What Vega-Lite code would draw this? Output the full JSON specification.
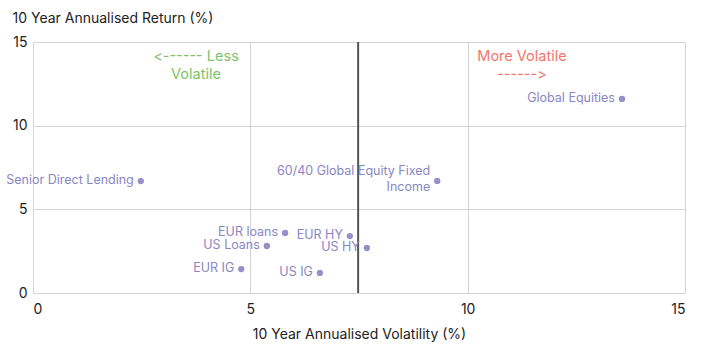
{
  "$schema": "https://vega.github.io/schema/vega-lite/v6.json",
  "autosize": "none",
  "width": 652,
  "height": 251,
  "padding": {"left": 33, "top": 42, "right": 33, "bottom": 59},
  "config": {
    "font": "Inter",
    "view": {"stroke": null},
    "axis": {
      "labelFont": "Inter",
      "titleFont": "Inter",
      "labelFontSize": 14,
      "titleFontSize": 14,
      "titleFontWeight": "normal",
      "labelColor": "#222",
      "titleColor": "#222",
      "gridColor": "#d3d3d3",
      "domain": false,
      "ticks": false
    }
  },
  "datasets": {
    "points": [
      {"name": "Senior Direct Lending", "vol": 2.48, "ret": 6.69},
      {"name": "Global Equities", "vol": 13.55, "ret": 11.6},
      {"name": "60/40 Global Equity Fixed Income", "vol": 9.3, "ret": 6.7},
      {"name": "EUR loans", "vol": 5.8, "ret": 3.59},
      {"name": "US Loans", "vol": 5.38, "ret": 2.81},
      {"name": "EUR IG", "vol": 4.79, "ret": 1.43},
      {"name": "US IG", "vol": 6.6, "ret": 1.2},
      {"name": "EUR HY", "vol": 7.29, "ret": 3.4},
      {"name": "US HY", "vol": 7.68, "ret": 2.69}
    ],
    "notes": [
      {"vol": 3.75, "ret": 14.1, "text": ["<\u200c-\u200c-\u200c-\u200c-\u200c-\u200c- Less", "Volatile"], "side": "less"},
      {"vol": 11.25, "ret": 14.1, "text": ["More Volatile", "-\u200c-\u200c-\u200c-\u200c-\u200c-\u200c>"], "side": "more"}
    ],
    "divider": [{"vol": 7.48}]
  },
  "layer": [
    {
      "data": {"name": "points"},
      "mark": {"type": "circle", "size": 40, "color": "#9590c8", "opacity": 1},
      "encoding": {
        "x": {
          "field": "vol", "type": "quantitative",
          "scale": {"domain": [0, 15], "nice": false},
          "axis": {"values": [0, 5, 10, 15], "title": "10 Year Annualised Volatility (%)", "labelPadding": 9, "titlePadding": 11}
        },
        "y": {
          "field": "ret", "type": "quantitative",
          "scale": {"domain": [0, 15], "nice": false},
          "axis": {
            "values": [0, 5, 10, 15],
            "title": "10 Year Annualised Return (%)",
            "titleAngle": 0,
            "titleAlign": "left",
            "titleBaseline": "middle",
            "titleX": -21,
            "titleY": -24,
            "labelPadding": 6
          }
        }
      }
    },
    {
      "data": {"name": "divider"},
      "mark": {"type": "rule", "color": "#555555", "strokeWidth": 2},
      "encoding": {"x": {"field": "vol", "type": "quantitative"}}
    },
    {
      "data": {"name": "points"},
      "mark": {"type": "text", "align": "right", "baseline": "middle", "dx": -7, "dy": -1, "fontSize": 12.5, "color": "#8a86c4"},
      "encoding": {
        "x": {"field": "vol", "type": "quantitative"},
        "y": {"field": "ret", "type": "quantitative"},
        "text": {"field": "name"}
      },
      "transform": [
        {"filter": "datum.name != '60/40 Global Equity Fixed Income'"}
      ]
    },
    {
      "data": {"values": [{"vol": 9.3, "ret": 6.7, "label": ["60/40 Global Equity Fixed", "Income"]}]},
      "mark": {"type": "text", "align": "right", "baseline": "middle", "dx": -7, "dy": -10, "fontSize": 12.5, "color": "#8a86c4", "lineHeight": 16},
      "encoding": {
        "x": {"field": "vol", "type": "quantitative"},
        "y": {"field": "ret", "type": "quantitative"},
        "text": {"field": "label"}
      }
    },
    {
      "data": {"name": "notes"},
      "mark": {"type": "text", "align": "center", "baseline": "middle", "fontSize": 14.5, "lineHeight": 18},
      "encoding": {
        "x": {"field": "vol", "type": "quantitative"},
        "y": {"field": "ret", "type": "quantitative"},
        "text": {"field": "text"},
        "color": {
          "field": "side", "type": "nominal",
          "scale": {"domain": ["less", "more"], "range": ["#7cc36c", "#f0766f"]},
          "legend": null
        }
      }
    }
  ]
}
